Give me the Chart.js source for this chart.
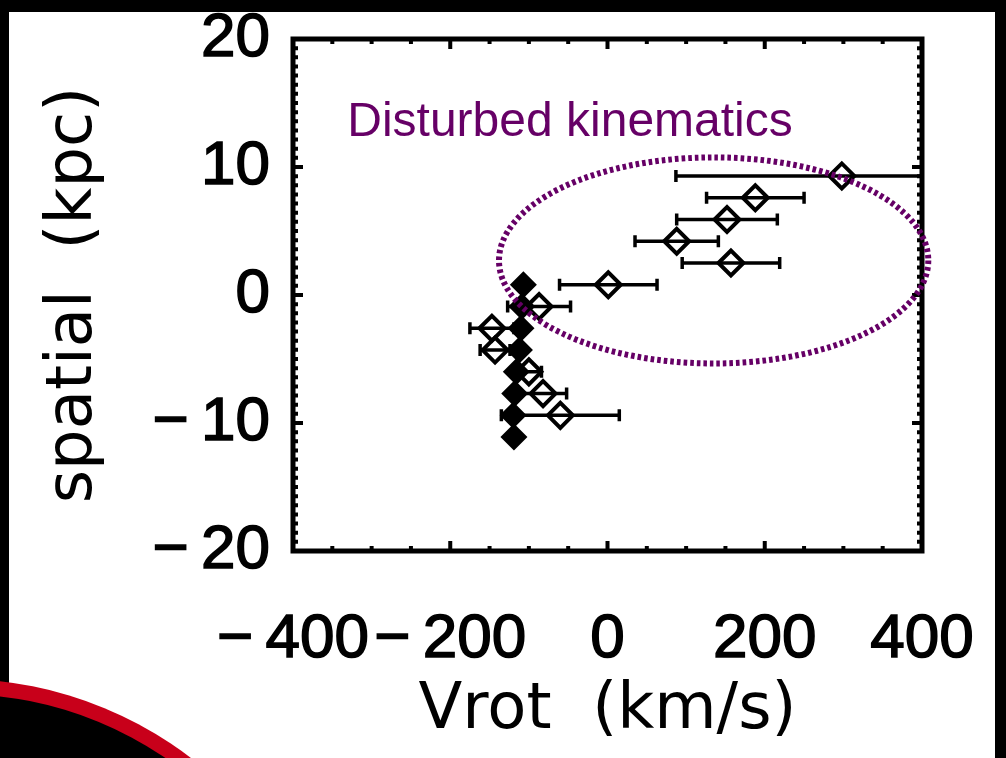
<!DOCTYPE html>
<html>
<head>
<meta charset="utf-8">
<script src="https://cdn.jsdelivr.net/npm/chart.js@4.4.1/dist/chart.umd.min.js"></script>
<style>
  html, body { margin: 0; padding: 0; background: #000; }
  #wrap { width: 1006px; height: 758px; }
</style>
</head>
<body>
<div id="wrap"><canvas id="rotChart" width="1006" height="758"></canvas></div>
<script>
// axis ranges and labelled ticks
const xRange = [-400, 400];
const yRange = [-20, 20];
const xTickStep = 200;
const yTickStep = 10;
const xMinorStep = 50;
const yMinorPerMajor = 14;

// open diamonds: measured rotation velocity with horizontal errors
const vrotOpen = [298, 188, 152, 88, 157, 1, -87, -147, -143, -100, -82, -60];
const spatialOpen = [9.3, 7.6, 5.9, 4.2, 2.5, 0.8, -0.9, -2.6, -4.3, -6.0, -7.7, -9.4];
const vrotErr = [211, 62, 64, 53, 62, 62, 40, 28, 19, 16, 30, 75];

// filled diamonds: model / reference curve
const vrotFilled = [-107, -109, -110, -112, -116, -118, -120, -119];
const spatialFilled = [0.8, -0.9, -2.6, -4.3, -6.0, -7.7, -9.4, -11.1];

// highlighted region (centre and half-axes in data units)
const regionCentre = [135, 2.7];
const regionRadii = [273, 8.05];
const regionLabel = 'Disturbed kinematics';
const regionLabelAt = [-331, 12.4];

const PURPLE = '#660066';
const fmt = v => (v < 0 ? '\u2212\u2009' + Math.abs(v) : String(v));

const slideBackground = {
  id: 'slideBackground',
  beforeDraw(chart) {
    const ctx = chart.ctx;
    const w = chart.width, h = chart.height;
    ctx.save();
    ctx.fillStyle = '#000';
    ctx.fillRect(0, 0, w, h);
    ctx.fillStyle = '#fff';
    ctx.fillRect(9, 12, w - 20, h - 12);
    // corner swoosh
    ctx.beginPath();
    ctx.arc(-42, 1062, 383, 0, Math.PI * 2);
    ctx.fillStyle = '#c8001a';
    ctx.fill();
    ctx.beginPath();
    ctx.arc(-42, 1062, 368, 0, Math.PI * 2);
    ctx.fillStyle = '#000';
    ctx.fill();
    ctx.restore();
  }
};

const errorBars = {
  id: 'errorBars',
  beforeDatasetsDraw(chart) {
    const { ctx, chartArea: a, scales: { x, y } } = chart;
    ctx.save();
    ctx.beginPath();
    ctx.rect(a.left, a.top, a.right - a.left, a.bottom - a.top);
    ctx.clip();
    ctx.strokeStyle = '#000';
    ctx.lineWidth = 3.5;
    vrotOpen.forEach((v, i) => {
      const py = y.getPixelForValue(spatialOpen[i]);
      const x0 = x.getPixelForValue(v - vrotErr[i]);
      const x1 = x.getPixelForValue(v + vrotErr[i]);
      ctx.beginPath();
      ctx.moveTo(x0, py); ctx.lineTo(x1, py);
      ctx.moveTo(x0, py - 6); ctx.lineTo(x0, py + 6);
      ctx.moveTo(x1, py - 6); ctx.lineTo(x1, py + 6);
      ctx.stroke();
    });
    ctx.restore();
  }
};

const frame = {
  id: 'frame',
  afterDatasetsDraw(chart) {
    const { ctx, chartArea: a, scales: { x, y } } = chart;
    ctx.save();
    ctx.strokeStyle = '#000';
    ctx.lineWidth = 5;
    ctx.strokeRect(a.left, a.top, a.right - a.left, a.bottom - a.top);
    ctx.lineWidth = 4;
    ctx.beginPath();
    for (let v = xRange[0] + xMinorStep; v < xRange[1]; v += xMinorStep) {
      const px = x.getPixelForValue(v);
      const len = v % xTickStep === 0 ? 10 : 5;
      ctx.moveTo(px, a.bottom); ctx.lineTo(px, a.bottom - len);
      ctx.moveTo(px, a.top); ctx.lineTo(px, a.top + len);
    }
    const yMinor = yTickStep / yMinorPerMajor;
    const nY = Math.round((yRange[1] - yRange[0]) / yMinor);
    for (let k = 1; k < nY; k++) {
      const v = yRange[0] + k * yMinor;
      const py = y.getPixelForValue(v);
      const len = k % yMinorPerMajor === 0 ? 10 : 5;
      ctx.moveTo(a.left, py); ctx.lineTo(a.left + len, py);
      ctx.moveTo(a.right, py); ctx.lineTo(a.right - len, py);
    }
    ctx.stroke();
    ctx.restore();
  }
};

const region = {
  id: 'region',
  afterDraw(chart) {
    const { ctx, scales: { x, y } } = chart;
    const cx = x.getPixelForValue(regionCentre[0]);
    const cy = y.getPixelForValue(regionCentre[1]);
    const rx = x.getPixelForValue(regionCentre[0] + regionRadii[0]) - cx;
    const ry = cy - y.getPixelForValue(regionCentre[1] + regionRadii[1]);
    ctx.save();
    ctx.strokeStyle = PURPLE;
    ctx.lineWidth = 6;
    ctx.setLineDash([3.6, 3]);
    ctx.beginPath();
    ctx.ellipse(cx, cy, rx, ry, 0, 0, Math.PI * 2);
    ctx.stroke();
    ctx.setLineDash([]);
    ctx.fillStyle = PURPLE;
    ctx.font = '48px "Liberation Sans", Arial, sans-serif';
    ctx.textAlign = 'left';
    ctx.textBaseline = 'alphabetic';
    ctx.fillText(regionLabel, x.getPixelForValue(regionLabelAt[0]), y.getPixelForValue(regionLabelAt[1]));
    ctx.restore();
  }
};

// keep the plot box fixed: labels may spill past it without shrinking it
function pinBox(s, size) {
  if (s.isHorizontal()) s.height = size; else s.width = size;
  s.paddingTop = 0; s.paddingBottom = 0; s.paddingLeft = 0; s.paddingRight = 0;
}

const tickFont = { family: '"Liberation Sans", Arial, sans-serif', size: 62 };
const titleFont = { family: '"DejaVu Sans", sans-serif', size: 64 };

new Chart(document.getElementById('rotChart'), {
  type: 'scatter',
  data: {
    datasets: [
      {
        label: 'observed',
        data: vrotOpen.map((v, i) => ({ x: v, y: spatialOpen[i] })),
        pointStyle: 'rectRot',
        pointRadius: 12.5,
        pointBorderWidth: 4,
        pointBorderColor: '#000',
        pointBackgroundColor: 'rgba(0,0,0,0)'
      },
      {
        label: 'reference',
        data: vrotFilled.map((v, i) => ({ x: v, y: spatialFilled[i] })),
        pointStyle: 'rectRot',
        pointRadius: 13.5,
        pointBorderWidth: 0,
        pointBackgroundColor: '#000'
      }
    ]
  },
  options: {
    responsive: false,
    animation: false,
    layout: { autoPadding: false, padding: { left: 0, top: 39, right: 84, bottom: 0 } },
    plugins: { legend: { display: false }, tooltip: { enabled: false } },
    scales: {
      x: {
        min: xRange[0], max: xRange[1],
        grid: { display: false, drawTicks: false },
        border: { display: false },
        ticks: { stepSize: xTickStep, autoSkip: false, maxRotation: 0, padding: 52,
                 color: '#000', font: tickFont, callback: fmt,
                 textStrokeColor: '#000', textStrokeWidth: 1.5 },
        title: { display: true, text: 'Vrot  (km/s)', color: '#000', font: titleFont,
                 padding: { top: 0, bottom: 8 } },
        afterFit(s) { pinBox(s, 207); }
      },
      y: {
        min: yRange[0], max: yRange[1],
        grid: { display: false, drawTicks: false },
        border: { display: false },
        ticks: { stepSize: yTickStep, autoSkip: false, padding: 23,
                 color: '#000', font: tickFont, callback: fmt,
                 textStrokeColor: '#000', textStrokeWidth: 1.5 },
        title: { display: true, text: 'spatial  (kpc)', color: '#000', font: titleFont,
                 padding: { top: 36, bottom: 0 } },
        afterFit(s) { pinBox(s, 293); }
      }
    }
  },
  plugins: [slideBackground, errorBars, frame, region]
});
</script>
</body>
</html>
